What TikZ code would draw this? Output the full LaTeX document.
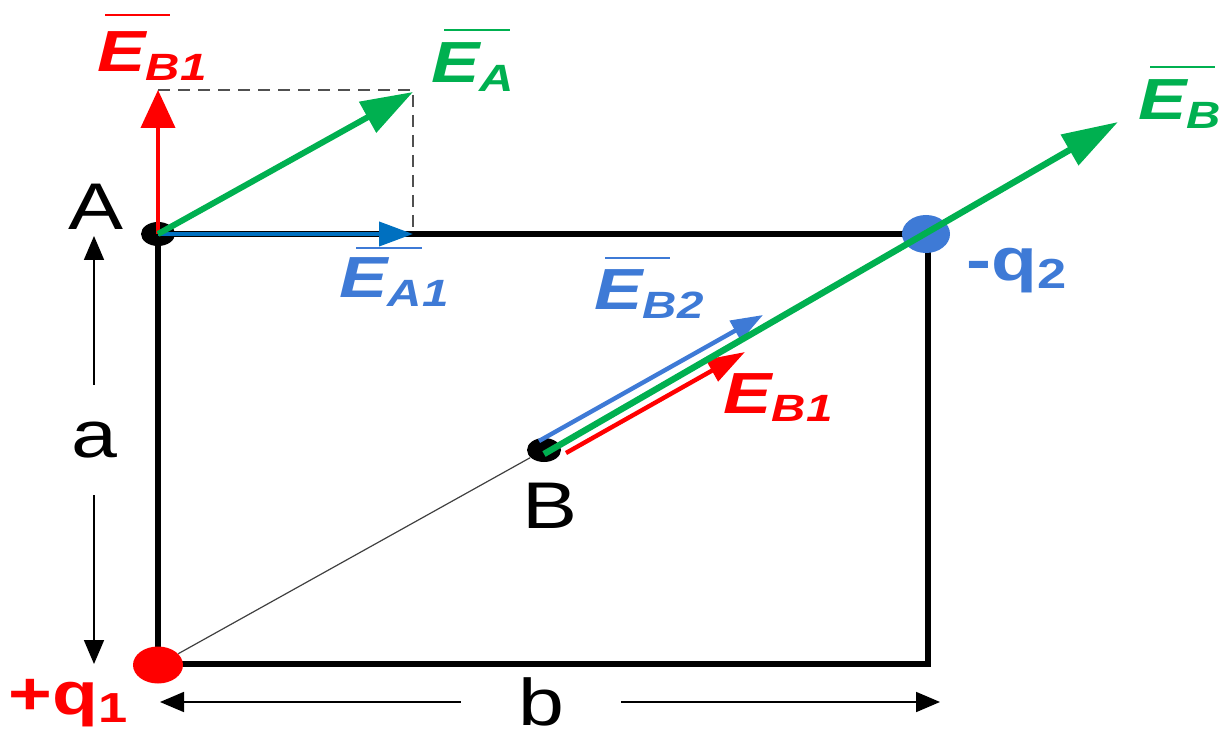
\documentclass[tikz,border=0pt]{standalone}
\usepackage{fontspec}
\setmainfont{Liberation Sans}[FakeStretch=1.25]
\usetikzlibrary{arrows.meta,shapes.geometric}
\definecolor{cred}{RGB}{255,0,0}
\definecolor{cgreen}{RGB}{0,176,80}
\definecolor{cblue}{RGB}{0,112,192}
\definecolor{lblue}{RGB}{62,122,214}
\definecolor{dgray}{RGB}{80,80,80}
\newcommand{\Evec}[1]{{\fontsize{29}{29}\selectfont\bfseries\itshape E}{\fontsize{19}{19}\selectfont\bfseries\itshape\raisebox{-4.5pt}{#1}}}
\newcommand{\charge}[2]{{\fontsize{30}{30}\selectfont\bfseries #1}{\fontsize{21}{21}\selectfont\bfseries\raisebox{-4pt}{#2}}}
\begin{document}
\begin{tikzpicture}[x=0.5pt,y=-0.5pt,
  rect/.style={line width=3pt, line join=miter},
  dim/.style={line width=0.9pt, -{Triangle[length=12pt,width=10pt]}},
  dot/.style={ellipse, inner sep=0pt, draw=none},
  lbl/.style={inner sep=0pt, anchor=base west},
  letter/.style={inner sep=0pt, font=\fontsize{33}{33}\selectfont},
  oline/.style={line width=1.2pt}
]
\useasboundingbox (0,0) rectangle (1225,732);
% geometry
\coordinate (pA) at (158,234);
\coordinate (pB) at (544,450);
\coordinate (pC) at (928,664);
\coordinate (pq1) at (158,665);
\coordinate (pq2) at (926,234);
\coordinate (tEB1) at (158,90);
\coordinate (tEA) at (413,92);
\coordinate (tEA1) at (413,234);
\coordinate (tEB) at (1118,122);
\coordinate (sEB2) at (539,441);
\coordinate (tEB2) at (763,315);
\coordinate (sEBr) at (566,453);
\coordinate (tEBr) at (745,352);
\coordinate (sEBg) at (544,454);
\coordinate (aTop) at (94,236);
\coordinate (aBot) at (94,664);
\coordinate (bL) at (160,712);
\coordinate (bR) at (940,712);

\draw[rect] (pA) rectangle (pC);

% charges and points
\node[dot, fill=black, minimum width=17pt, minimum height=12pt] (A) at (pA) {};
\node[dot, fill=black, minimum width=17pt, minimum height=12pt] (B) at (pB) {};
\node[dot, fill=cred, minimum width=25pt, minimum height=18.5pt] (q1) at (pq1) {};
\node[dot, fill=lblue, minimum width=24pt, minimum height=19pt] (q2) at (pq2) {};
\draw[line width=0.6pt, black!75] (q1) -- (B);

% dashed construction
\draw[dgray, line width=1pt, dash pattern=on 6pt off 4pt] (tEB1) -- (tEB1 -| tEA1) -- (tEA1);

% vectors at A
\draw[cblue, line width=2pt, -{Triangle[length=17pt,width=12pt]}] (A.center) -- (tEA1);
\draw[cred, line width=2pt, -{Triangle[length=19pt,width=17pt]}] (A.center) -- (tEB1);
\draw[cgreen, line width=3pt, -{Triangle[length=26pt,width=17pt]}] (A.center) -- (tEA);

% vectors at B
\draw[lblue, line width=2.2pt, -{Triangle[length=16pt,width=11pt]}] (sEB2) -- (tEB2);
\draw[cred, line width=2.2pt, -{Triangle[length=19pt,width=12pt]}] (sEBr) -- (tEBr);
\draw[cgreen, line width=3.2pt, -{Triangle[length=28pt,width=17pt]}] (sEBg) -- (tEB);

% labels
\node[lbl, text=cred] (LEB1t) at (97,72) {\Evec{B1}};
\draw[cred, oline] ([shift={(8,-57)}]LEB1t.base west) -- ++(65,0);
\node[lbl, text=cgreen] (LEA) at (431,83) {\Evec{A}};
\draw[cgreen, oline] ([shift={(13,-53)}]LEA.base west) -- ++(66,0);
\node[lbl, text=lblue] (LEA1) at (339,298) {\Evec{A1}};
\draw[lblue, oline] ([shift={(17,-50)}]LEA1.base west) -- ++(66,0);
\node[lbl, text=lblue] (LEB2) at (594,310) {\Evec{B2}};
\draw[lblue, oline] ([shift={(11,-52)}]LEB2.base west) -- ++(65,0);
\node[lbl, text=cred] (LEBr) at (723,413) {\Evec{B1}};
\node[lbl, text=cgreen] (LEB) at (1138,120) {\Evec{B}};
\draw[cgreen, oline] ([shift={(12,-53)}]LEB.base west) -- ++(65,0);

\node[lbl, text=lblue] (Lq2) at (966,281) {\charge{-q}{2}};
\node[lbl, text=cred] (Lq1) at (8,714) {\charge{+q}{1}};

\node[letter, anchor=base west] (LA) at (68,230) {A};
\node[letter, anchor=base west] (LB) at (522,528) {B};

% dimensions
\node[letter, minimum height=55pt] (la) at (94,440) {a};
\node[letter, minimum width=80pt] (lb) at (541,702) {b};
\draw[dim] (la.north) -- (aTop);
\draw[dim] (la.south) -- (aBot);
\draw[dim] (lb.west) -- (lb.west -| bL);
\draw[dim] (lb.east) -- (lb.east -| bR);
\end{tikzpicture}
\end{document}
